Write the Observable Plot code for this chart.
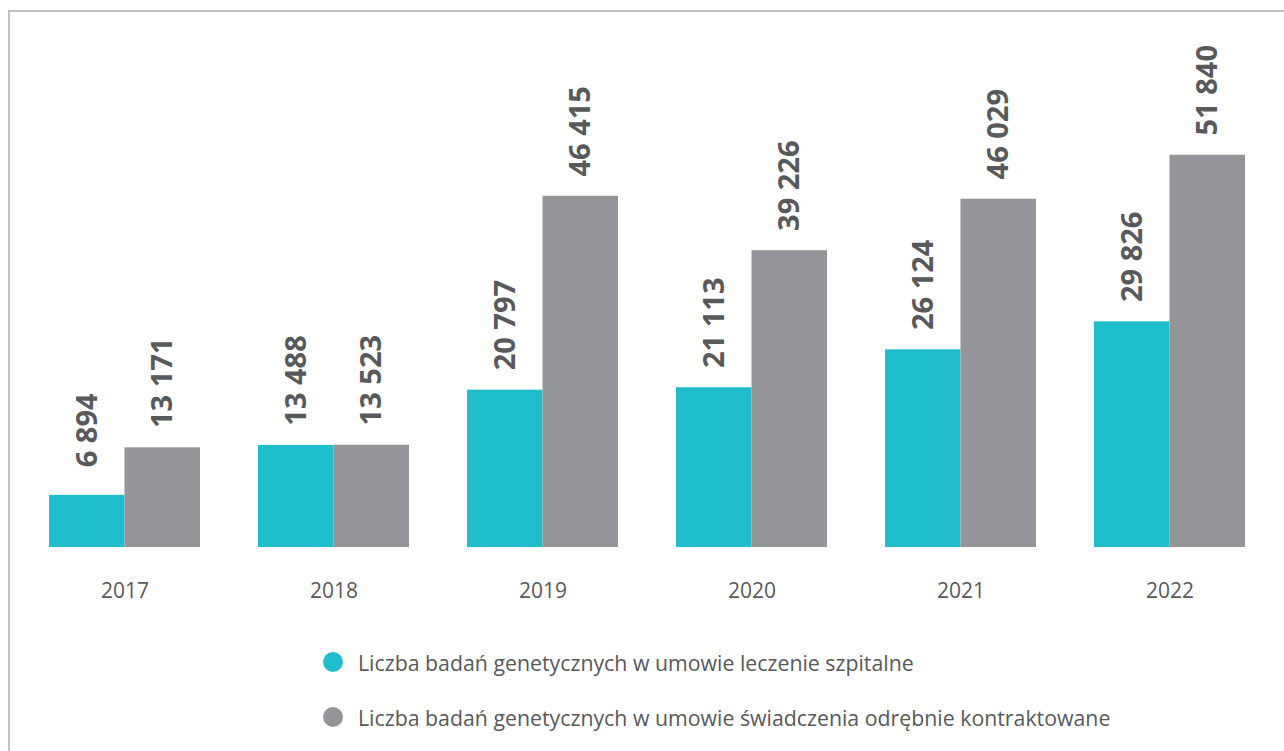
<!DOCTYPE html>
<html>
<head>
<meta charset="utf-8">
<script src="https://cdn.jsdelivr.net/npm/d3@7"></script>
<script src="https://cdn.jsdelivr.net/npm/@observablehq/plot@0.6"></script>
<style>
  html, body { margin: 0; padding: 0; background: #fff; }
  body { width: 1284px; height: 751px; position: relative; overflow: hidden; font-family: "Open Sans", sans-serif; }
  #frame { position: absolute; left: 8px; top: 10px; right: 0; bottom: -5px; border-top: 2px solid #c0c0c0; border-left: 2px solid #c0c0c0; }
  #chart { position: absolute; left: 0; top: 0; }
  #legend { position: absolute; left: 323px; top: 647px; color: #58595b; font-size: 21.3px; }
  .item { display: flex; align-items: center; height: 30px; margin-bottom: 25px; }
  .sw { width: 20px; height: 20px; border-radius: 50%; margin-right: 15px; flex: none; }
</style>
</head>
<body>
<div id="frame"></div>
<div id="chart"></div>
<div id="legend"></div>
<script>
const years = ["2017", "2018", "2019", "2020", "2021", "2022"];
const seriesNames = [
  "Liczba badań genetycznych w umowie leczenie szpitalne",
  "Liczba badań genetycznych w umowie świadczenia odrębnie kontraktowane"
];
const hospitalValues = [6894, 13488, 20797, 21113, 26124, 29826];
const separateValues = [13171, 13523, 46415, 39226, 46029, 51840];
const colors = ["#20bdcc", "#939598"];

const data = [];
years.forEach((y, i) => {
  data.push({year: y, series: seriesNames[0], value: hospitalValues[i]});
  data.push({year: y, series: seriesNames[1], value: separateValues[i]});
});

const fmt = d3.formatLocale({decimal: ",", thousands: " ", grouping: [3], currency: ["", ""]}).format(",d");

const chart = Plot.plot({
  width: 1284,
  height: 620,
  marginLeft: 49,
  marginRight: 39,
  marginTop: 93,
  marginBottom: 73,
  style: {fontFamily: "Open Sans, sans-serif", background: "transparent"},
  fx: {domain: years, paddingInner: 0.2775, paddingOuter: 0, round: false, axis: null},
  x: {domain: seriesNames, padding: 0, round: false, axis: null},
  y: {domain: [0, 60000], axis: null},
  color: {domain: seriesNames, range: colors},
  marks: [
    Plot.barY(data, {fx: "year", x: "series", y: "value", fill: "series"}),
    Plot.text(data, {
      fx: "year", x: "series", y: "value",
      text: d => fmt(d.value),
      rotate: -90, textAnchor: "middle", lineAnchor: "middle",
      dy: -65, fontSize: 29, fontWeight: "bold", fill: "#58595b"
    }),
    Plot.axisFx({anchor: "bottom", tickSize: 0, tickPadding: 36, fontSize: 21, color: "#58595b", label: null})
  ]
});
document.getElementById("chart").appendChild(chart);

const legend = document.getElementById("legend");
seriesNames.forEach((name, i) => {
  const item = document.createElement("div");
  item.className = "item";
  const sw = document.createElement("span");
  sw.className = "sw";
  sw.style.background = colors[i];
  const label = document.createElement("span");
  label.textContent = name;
  item.appendChild(sw);
  item.appendChild(label);
  legend.appendChild(item);
});
</script>
</body>
</html>
